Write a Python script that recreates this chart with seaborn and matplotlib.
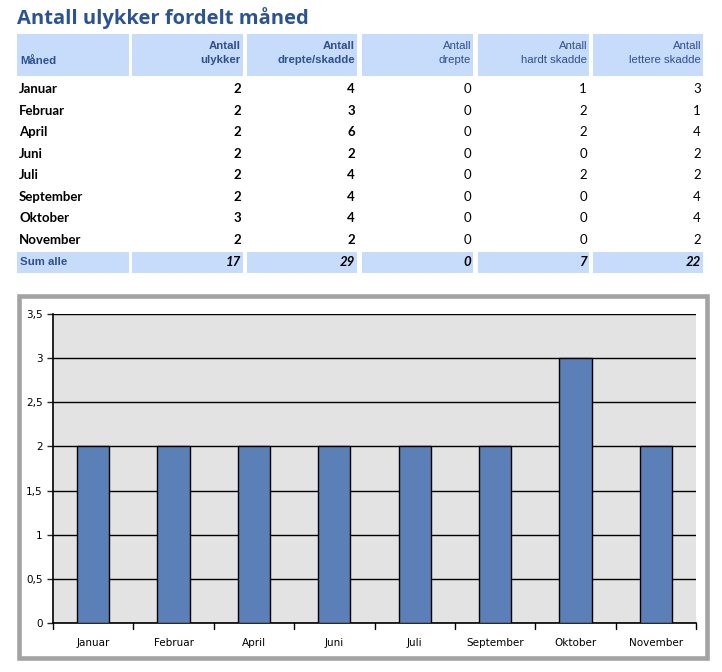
import matplotlib
matplotlib.use("Agg")
import matplotlib.pyplot as plt
import seaborn as sns
import pandas as pd
from matplotlib.patches import Rectangle
from matplotlib.ticker import FuncFormatter, MultipleLocator

months = ["Januar", "Februar", "April", "Juni", "Juli", "September", "Oktober", "November"]
ulykker = [2, 2, 2, 2, 2, 2, 3, 2]
drepte_skadde = [4, 3, 6, 2, 4, 4, 4, 2]
drepte = [0, 0, 0, 0, 0, 0, 0, 0]
hardt_skadde = [1, 2, 2, 0, 2, 0, 0, 0]
lettere_skadde = [3, 1, 4, 2, 2, 4, 4, 2]
sums = [17, 29, 0, 7, 22]
headers = ["Måned", "Antall\nulykker", "Antall\ndrepte/skadde", "Antall\ndrepte",
           "Antall\nhardt skadde", "Antall\nlettere skadde"]

sns.set_theme(style="white")
W, H = 722, 672
fig = plt.figure(figsize=(W / 100, H / 100), dpi=100)

def fx(x):
    return x / W

def fy(y):
    return 1 - y / H

title_col = "#2B5393"
head_col = "#2F4F8F"
band_col = "#C6DCFA"
body_font = "Lato"

fig.text(fx(17), fy(18), "Antall ulykker fordelt måned", fontsize=14.5, fontweight="bold",
         color=title_col, family="Open Sans", va="center", ha="left")

cols = [(17, 129), (132, 243), (247, 357), (362, 473), (478, 589), (593, 703)]
for (x0, x1) in cols:
    fig.patches.append(Rectangle((fx(x0), fy(76)), fx(x1 - x0), (76 - 34) / H,
                                 transform=fig.transFigure, facecolor=band_col, edgecolor="none"))
    fig.patches.append(Rectangle((fx(x0), fy(273)), fx(x1 - x0), (273 - 252) / H,
                                 transform=fig.transFigure, facecolor=band_col, edgecolor="none"))

for i, (x0, x1) in enumerate(cols):
    bold = i <= 2
    if i == 0:
        fig.text(fx(x0 + 3), fy(61), headers[i], fontsize=8.2, fontweight="bold", color=head_col,
                 family="Liberation Sans", va="center", ha="left")
    else:
        fig.text(fx(x1 - 2), fy(53), headers[i], fontsize=8.2,
                 fontweight="bold" if bold else "normal", color=head_col,
                 family="Liberation Sans", va="center", ha="right", linespacing=1.4)

row_y = [89, 111, 132, 154, 175, 197, 218, 240]
series = [ulykker, drepte_skadde, drepte, hardt_skadde, lettere_skadde]
for r, m in enumerate(months):
    fig.text(fx(19), fy(row_y[r]), m, fontsize=9.5, fontweight="bold", color="black",
             family=body_font, va="center", ha="left")
    for c, s in enumerate(series):
        x1 = cols[c + 1][1]
        fig.text(fx(x1 - 2), fy(row_y[r]), str(s[r]), fontsize=9.5,
                 fontweight="bold" if c <= 1 else "normal", color="black",
                 family=body_font, va="center", ha="right")

fig.text(fx(20), fy(262), "Sum alle", fontsize=8.2, fontweight="bold", color=head_col,
         family="Liberation Sans", va="center", ha="left")
for c, s in enumerate(sums):
    x1 = cols[c + 1][1]
    fig.text(fx(x1 - 2), fy(262), str(s), fontsize=9.5, fontweight="bold", style="italic",
             color="black", family=body_font, va="center", ha="right")

# chart frame
frame = Rectangle((fx(18.5), fy(657.5)), fx(707 - 18.5), (657.5 - 296) / H,
                  transform=fig.transFigure, facecolor="white",
                  edgecolor="#A3A3A3", linewidth=3.3, zorder=-5)
fig.patches.append(frame)

ax = fig.add_axes([fx(53), fy(623), fx(696 - 53), (623 - 314) / H])
ax.set_zorder(2)
df = pd.DataFrame({"Måned": months, "Antall": ulykker})
sns.barplot(data=df, x="Måned", y="Antall", ax=ax, color="#5B80B7", width=0.4,
            edgecolor="black", linewidth=1.0, saturation=1, zorder=3)
ax.set_facecolor("#E3E3E3")
ax.set_ylim(0, 3.5)
ax.set_xlim(-0.5, len(months) - 0.5)
ax.yaxis.set_major_locator(MultipleLocator(0.5))
ax.yaxis.set_major_formatter(FuncFormatter(lambda v, p: ("%g" % v).replace(".", ",")))
ax.grid(axis="y", color="black", linewidth=1.0, zorder=0)
ax.set_axisbelow(True)
ax.set_xlabel("")
ax.set_ylabel("")
for sp in ["top", "right"]:
    ax.spines[sp].set_visible(False)
for sp in ["left", "bottom"]:
    ax.spines[sp].set_color("black")
    ax.spines[sp].set_linewidth(1.2)
ax.set_xticks(range(len(months)))
ax.set_xticklabels(months)
ax.tick_params(axis="x", length=0, labelsize=7.5, pad=10.5, labelcolor="black")
ax.tick_params(axis="y", length=4, width=1, direction="out", labelsize=7.5, labelcolor="black", left=True)
for k in range(len(months)):
    ax.plot([k + 0.5, k + 0.5], [0, -0.07], color="black", linewidth=1.0, clip_on=False, zorder=5)
ax.plot([-0.5, -0.5], [0, -0.07], color="black", linewidth=1.0, clip_on=False, zorder=5)
for lab in ax.get_xticklabels() + ax.get_yticklabels():
    lab.set_family("DejaVu Sans")

fig.savefig("out.png", dpi=100)
